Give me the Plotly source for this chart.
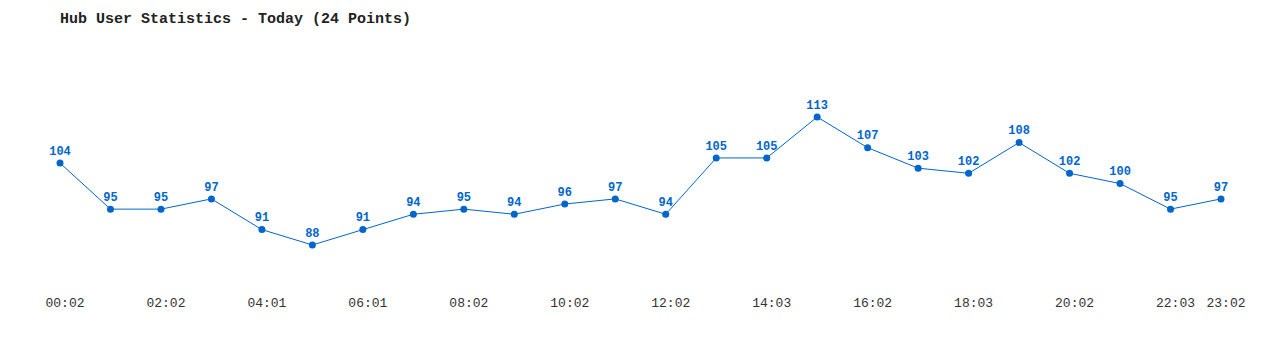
import plotly.graph_objects as go

times = ["00:02","01:02","02:02","03:02","04:01","05:01","06:01","07:02","08:02","09:02",
         "10:02","11:02","12:02","13:02","14:03","15:02","16:02","17:02","18:03","19:02",
         "20:02","21:02","22:03","23:02"]
users = [104, 95, 95, 97, 91, 88, 91, 94, 95, 94, 96, 97, 94, 105, 105, 113, 107, 103, 102, 108, 102, 100, 95, 97]
tick_idx = [0, 2, 4, 6, 8, 10, 12, 14, 16, 18, 20, 22, 23]
tick_text = [times[i] for i in tick_idx]

x = list(range(len(users)))
blue = "#0066CC"
mono = "Liberation Mono, Courier New, monospace"

fig = go.Figure(go.Scatter(
    x=x, y=users, mode="lines+markers+text",
    line=dict(color=blue, width=1),
    marker=dict(color=blue, size=7),
    text=[str(v) for v in users], textposition="top center",
    textfont=dict(family=mono, size=12, color=blue, weight="bold"),
    cliponaxis=False, hoverinfo="skip",
))

fig.update_layout(
    width=1280, height=350,
    margin=dict(l=60, r=59, t=60, b=70),
    paper_bgcolor="white", plot_bgcolor="white",
    showlegend=False,
    title=dict(text="Hub User Statistics - Today (24 Points)", x=60/1280, xanchor="left",
               y=1-18/350, yanchor="middle",
               font=dict(family=mono, size=15, color="#222", weight="bold")),
    xaxis=dict(range=[0, 23], tickvals=tick_idx, ticktext=tick_text, showgrid=False,
               zeroline=False, showline=False, ticks="outside", ticklen=10,
               tickcolor="rgba(0,0,0,0)", ticklabelshift=5,
               tickfont=dict(family=mono, size=13, color="#333")),
    yaxis=dict(range=[81.16, 124.13], visible=False),
)

fig.write_html("out.html")
